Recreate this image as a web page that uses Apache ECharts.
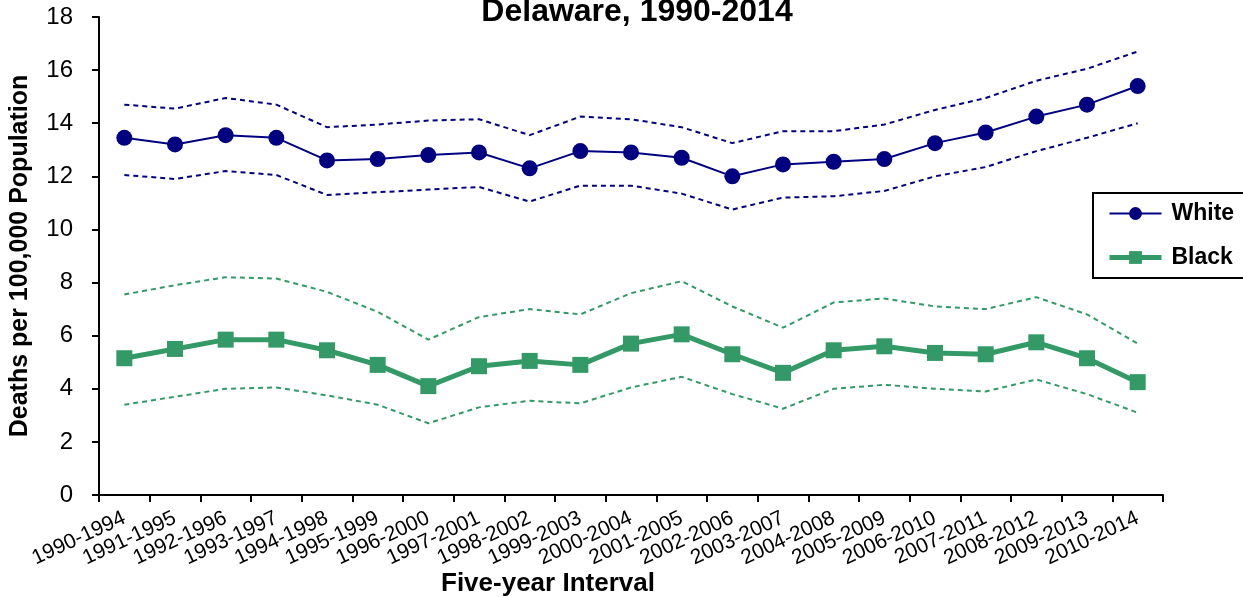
<!DOCTYPE html>
<html>
<head>
<meta charset="utf-8">
<script src="https://cdn.jsdelivr.net/npm/echarts@6/dist/echarts.min.js"></script>
<style>
  html, body { margin: 0; padding: 0; background: #fff; }
  #main { width: 1243px; height: 597px; }
</style>
</head>
<body>
<div id="main"></div>
<script>
// five-year intervals
var intervals = ['1990-1994', '1991-1995', '1992-1996', '1993-1997', '1994-1998', '1995-1999',
  '1996-2000', '1997-2001', '1998-2002', '1999-2003', '2000-2004', '2001-2005', '2002-2006',
  '2003-2007', '2004-2008', '2005-2009', '2006-2010', '2007-2011', '2008-2012', '2009-2013', '2010-2014'];

// White rates and 95% limits
var white = [13.45, 13.2, 13.55, 13.45, 12.6, 12.65, 12.8, 12.9, 12.3, 12.95, 12.9, 12.7, 12.0, 12.45, 12.55, 12.65, 13.25, 13.65, 14.25, 14.7, 15.4];
var whiteUpper = [14.7, 14.55, 14.95, 14.7, 13.85, 13.95, 14.1, 14.15, 13.55, 14.25, 14.15, 13.85, 13.25, 13.7, 13.7, 13.95, 14.5, 14.95, 15.6, 16.05, 16.7];
var whiteLower = [12.05, 11.9, 12.2, 12.05, 11.3, 11.4, 11.5, 11.6, 11.05, 11.65, 11.65, 11.35, 10.75, 11.2, 11.25, 11.45, 12.0, 12.35, 12.95, 13.45, 14.0];

// Black rates and 95% limits
var black = [5.15, 5.5, 5.85, 5.85, 5.45, 4.9, 4.1, 4.85, 5.05, 4.9, 5.7, 6.05, 5.3, 4.6, 5.45, 5.6, 5.35, 5.3, 5.75, 5.15, 4.25];
var blackUpper = [7.55, 7.9, 8.2, 8.15, 7.65, 6.9, 5.85, 6.7, 7.0, 6.8, 7.6, 8.05, 7.1, 6.3, 7.25, 7.4, 7.1, 7.0, 7.45, 6.8, 5.7];
var blackLower = [3.4, 3.7, 4.0, 4.05, 3.75, 3.4, 2.7, 3.3, 3.55, 3.45, 4.05, 4.45, 3.8, 3.25, 4.0, 4.15, 4.0, 3.9, 4.35, 3.8, 3.1];

var navy = '#000080';
var green = '#339966';
var font = 'Liberation Sans, Arial, sans-serif';

// dashed confidence limit lines
function dashed(name, data, color) {
  return {
    name: name,
    type: 'line',
    data: data,
    symbol: 'none',
    silent: true,
    lineStyle: { color: color, width: 2, type: [5, 4] },
    z: 1
  };
}

var myChart = echarts.init(document.getElementById('main'));

var option = {
  animation: false,
  textStyle: { fontFamily: font },
  title: {
    text: 'Delaware, 1990-2014',
    left: 637,
    textAlign: 'center',
    top: -4,
    padding: 0,
    textStyle: { fontFamily: font, fontSize: 32, fontWeight: 'bold', color: '#000' }
  },
  legend: {
    data: [
      { name: 'White' },
      { name: 'Black', lineStyle: { width: 5 } }
    ],
    orient: 'vertical',
    left: 1093,
    top: 193,
    padding: [9, 40, 9, 14],
    itemGap: 21,
    itemWidth: 52,
    itemHeight: 16,
    borderColor: '#000',
    borderWidth: 2,
    textStyle: { fontFamily: font, fontSize: 23, fontWeight: 'bold', color: '#000', padding: [0, 0, 0, 5] }
  },
  grid: { left: 99, right: 80, top: 17, bottom: 102 },
  xAxis: {
    type: 'category',
    data: intervals,
    boundaryGap: true,
    axisLine: { lineStyle: { color: '#000', width: 2 } },
    axisTick: { show: true, length: 7, lineStyle: { color: '#000', width: 2 } },
    axisLabel: { rotate: 25, fontSize: 21, color: '#000', fontFamily: font, margin: 22, interval: 0 },
    splitLine: { show: false }
  },
  yAxis: {
    type: 'value',
    min: 0,
    max: 18,
    interval: 2,
    name: 'Deaths per 100,000 Population',
    nameLocation: 'middle',
    nameGap: 66,
    nameTextStyle: { fontFamily: font, fontSize: 25, fontWeight: 'bold', color: '#000' },
    axisLine: { show: true, lineStyle: { color: '#000', width: 2 } },
    axisTick: { show: true, length: 7, lineStyle: { color: '#000', width: 2 } },
    axisLabel: { fontSize: 24, color: '#000', fontFamily: font, margin: 26 },
    splitLine: { show: false }
  },
  graphic: [{
    type: 'text',
    left: 441,
    top: 571,
    style: { text: 'Five-year Interval', font: 'bold 26px ' + font, fill: '#000' }
  }],
  series: [
    dashed('White upper', whiteUpper, navy),
    dashed('White lower', whiteLower, navy),
    dashed('Black upper', blackUpper, green),
    dashed('Black lower', blackLower, green),
    {
      name: 'White',
      type: 'line',
      data: white,
      symbol: 'circle',
      symbolSize: 16,
      itemStyle: { color: navy },
      lineStyle: { color: navy, width: 2 },
      z: 3
    },
    {
      name: 'Black',
      type: 'line',
      data: black,
      symbol: 'rect',
      symbolSize: 16,
      itemStyle: { color: green },
      lineStyle: { color: green, width: 5 },
      z: 3
    }
  ]
};

myChart.setOption(option);
</script>
</body>
</html>
